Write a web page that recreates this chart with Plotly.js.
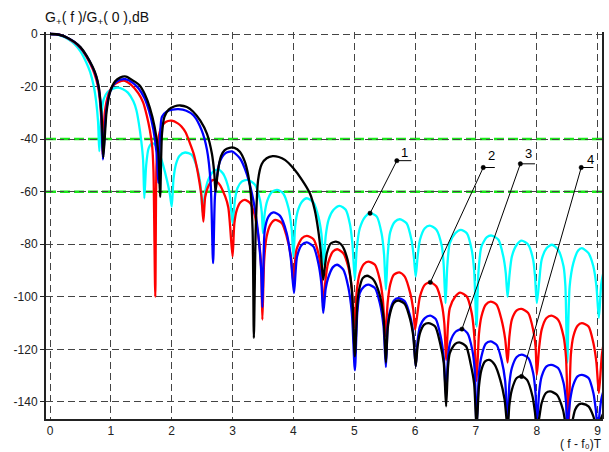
<!DOCTYPE html>
<html><head><meta charset="utf-8">
<script src="https://cdn.plot.ly/plotly-3.0.1.min.js"></script>
<style>html,body{margin:0;padding:0;background:#fff}#chart{width:609px;height:452px}</style>
</head><body><div id="chart"></div>
<script>
const xTickVals = [0,1,2,3,4,5,6,7,8,9];
const yTickVals = [0,-20,-40,-60,-80,-100,-120,-140];
const curveLabels = ['1','2','3','4'];
const refLevels = [-40,-60];

// curve 1 (cyan)
const x1 = [0,0.1,0.2,0.3,0.4,0.5,0.6,0.66,0.72,0.76,0.79,0.81,
 0.84,0.88,0.95,1.04,1.12,1.2,1.28,1.37,1.42,1.46,1.5,1.53,1.55,
 1.58,1.62,1.68,1.74,1.8,1.86,1.92,1.97,2.0,
 2.03,2.07,2.13,2.22,2.33,2.41,2.47,2.51,
 2.55,2.6,2.68,2.76,2.84,2.9,2.95,3.0,
 3.04,3.08,3.15,3.25,3.37,3.45,3.48,3.5,
 3.53,3.57,3.64,3.73,3.83,3.92,3.97,4.0,
 4.03,4.07,4.14,4.22,4.33,4.41,4.46,4.5,
 4.53,4.58,4.66,4.76,4.86,4.93,4.97,5.01,
 5.04,5.09,5.18,5.26,5.37,5.45,5.49,5.52,
 5.55,5.59,5.67,5.75,5.86,5.94,5.98,6.01,
 6.04,6.08,6.16,6.24,6.35,6.44,6.47,6.5,
 6.53,6.57,6.66,6.75,6.85,6.93,6.97,7.01,
 7.04,7.09,7.18,7.26,7.37,7.45,7.49,7.52,
 7.55,7.59,7.67,7.75,7.86,7.94,7.97,8.0,
 8.04,8.08,8.16,8.25,8.35,8.44,8.47,8.5,
 8.54,8.6,8.68,8.74,8.85,8.93,8.98,9.02,9.06,9.12];
const y1 = [0,-0.15,-0.8,-2.0,-3.8,-6.6,-11,-14.5,-20,-26,-33.5,-44.6,
 -32,-25,-22,-20.8,-20.4,-21,-22.3,-25.6,-29,-34,-40.8,-48,-62.5,
 -50,-43.5,-41.5,-42.5,-45.5,-50,-55.5,-61,-65.7,
 -55,-49.5,-46.3,-45.1,-46,-50.4,-56.8,-68.2,
 -60,-55.5,-52.4,-51.5,-53,-56,-60.6,-72,
 -63,-58.7,-56.2,-55.5,-57.4,-63.1,-68,-75.8,
 -68,-63.5,-60.3,-59.3,-60.6,-66.3,-74,-84.7,
 -73,-67.5,-63.8,-62.5,-64.1,-69.5,-76,-87.8,
 -77,-70.5,-66.9,-65.4,-66.9,-72.5,-80,-93.5,
 -82,-74,-69.5,-68.2,-69.5,-76,-84,-97.3,
 -84,-75.5,-71.4,-70.5,-72,-78.3,-85,-92.3,
 -85,-78.3,-73.9,-72.9,-74.5,-80.9,-88,-102.4,
 -88,-79.6,-75.8,-74.5,-75.8,-82.1,-90,-111.3,
 -91,-80.9,-77.3,-76.7,-78.3,-84.7,-91,-100,
 -92,-84.7,-80.2,-78.6,-80.2,-85.9,-92,-102.4,
 -94,-85.9,-81.5,-80.2,-82.1,-88.5,-96,-125,
 -96,-87.2,-82.4,-81.5,-83.4,-88.5,-96,-108,-95,-88];

// curve 2 (red)
const x2 = [0,0.1,0.2,0.3,0.4,0.5,0.6,0.7,0.76,0.8,0.83,0.85,0.865,
 0.9,0.96,1.04,1.13,1.23,1.34,1.45,1.53,1.59,1.64,1.68,1.70,1.73,
 1.75,1.78,1.83,1.9,2.0,2.1,2.16,2.23,2.3,2.36,2.41,2.46,2.49,2.52,
 2.55,2.6,2.68,2.77,2.88,2.93,2.96,3.0,
 3.03,3.07,3.13,3.2,3.29,3.36,3.4,3.44,3.47,3.49,
 3.52,3.56,3.62,3.7,3.81,3.89,3.96,4.0,
 4.05,4.14,4.22,4.33,4.41,4.46,4.49,
 4.53,4.57,4.65,4.72,4.82,4.9,4.96,5.0,
 5.04,5.09,5.16,5.23,5.34,5.42,5.47,5.51,
 5.55,5.59,5.65,5.74,5.83,5.92,5.97,6.0,
 6.04,6.08,6.16,6.25,6.35,6.44,6.48,6.51,
 6.54,6.57,6.66,6.74,6.85,6.93,6.97,7.01,
 7.05,7.09,7.16,7.24,7.34,7.42,7.48,7.52,
 7.55,7.59,7.67,7.75,7.86,7.94,7.98,8.0,
 8.04,8.08,8.16,8.24,8.35,8.44,8.48,8.52,
 8.56,8.6,8.67,8.74,8.85,8.93,8.98,9.02,9.07,9.12];
const y2 = [0,-0.1,-0.6,-1.7,-3.2,-5.3,-8.7,-13.2,-17.3,-21.5,-28,-36,-46,
 -30,-23,-19.5,-18.2,-17.8,-19.5,-22.5,-26,-31,-36.5,-43,-52,-100,
 -50,-40,-35.5,-33.5,-33,-34,-35.2,-37.5,-41.6,-45.5,-50.4,-57,-62,-71.4,
 -62,-58,-55.5,-56.8,-61.9,-66,-73.3,-84.7,
 -72,-66.9,-64,-63.1,-64.4,-68.5,-73.3,-80,-88.5,-108.7,
 -86,-77.1,-72.6,-70.7,-72,-77.1,-84.7,-94.8,
 -82.1,-77.7,-76.8,-78.1,-83.4,-91,-103.7,
 -93,-87.2,-82.8,-81.9,-83.4,-88.5,-97,-112,
 -98,-91,-87.5,-86.6,-87.8,-93.5,-101,-115,
 -102,-95.4,-91.6,-90.7,-92.3,-98.6,-105,-112.5,
 -106,-99.9,-95.4,-94.5,-96.1,-103,-110,-124,
 -111,-104.3,-99.9,-98.4,-99.9,-106.2,-114,-132,
 -114,-107.5,-103,-101.8,-103,-108.7,-116,-125,
 -115,-108.7,-105.2,-104.6,-106.2,-112.5,-119,-129.7,
 -119,-112.5,-108.1,-107.2,-108.7,-115.1,-123,-150,
 -122,-115.1,-111,-110,-111.3,-117.6,-125,-136.6,-122,-115];

// curve 3 (blue)
const x3 = [0,0.1,0.2,0.3,0.4,0.5,0.6,0.7,0.76,0.8,0.83,0.85,0.87,
 0.92,0.98,1.06,1.15,1.24,1.36,1.46,1.55,1.63,1.70,1.75,1.78,
 1.81,1.84,1.92,2.01,2.11,2.24,2.36,2.49,2.58,2.64,2.68,
 2.71,2.74,2.79,2.88,2.99,3.12,3.23,3.34,3.42,3.47,3.49,
 3.51,3.53,3.59,3.67,3.78,3.89,3.96,4.01,
 4.06,4.14,4.22,4.33,4.41,4.46,4.49,
 4.53,4.57,4.65,4.72,4.82,4.9,4.96,5.01,
 5.05,5.09,5.16,5.23,5.34,5.42,5.48,5.52,
 5.55,5.59,5.65,5.72,5.83,5.92,5.97,6.01,
 6.04,6.08,6.16,6.25,6.34,6.42,6.47,6.51,
 6.54,6.58,6.67,6.77,6.86,6.94,6.98,7.01,
 7.05,7.09,7.16,7.24,7.34,7.42,7.48,7.52,
 7.55,7.59,7.67,7.75,7.86,7.94,7.98,8.0,
 8.04,8.08,8.16,8.24,8.35,8.44,8.48,8.5,
 8.55,8.6,8.67,8.74,8.85,8.93,8.97,9.0,9.06,9.12];
const y3 = [0,-0.1,-0.6,-1.6,-3.0,-5.1,-8.3,-12.7,-16.3,-20.5,-26.5,-34,-47.8,
 -30,-22.5,-18.8,-17.4,-17.2,-18.6,-20.8,-24.3,-29.5,-36.5,-45,-56.7,
 -38,-31.5,-29.5,-28.8,-28.6,-29.2,-31,-36.5,-44.1,-56.8,-87.2,
 -62,-55,-48.6,-45.4,-44.7,-47.3,-53,-63.1,-75.8,-90,-104,
 -85,-74.5,-69.5,-67.9,-69.2,-75.8,-85.9,-98.6,
 -84.7,-80.2,-79.3,-80.9,-87.2,-95,-106.2,
 -97,-92.9,-88.7,-87.8,-89.7,-96.1,-106,-128,
 -106,-98.6,-96.1,-95.4,-96.7,-102.4,-111,-126.7,
 -111,-105.2,-101.5,-100.5,-101.7,-107.5,-114,-126.5,
 -117,-111.3,-108.1,-107.2,-108.5,-115.1,-123,-138,
 -123,-117,-113.2,-112.3,-113.8,-120.2,-128,-150,
 -129,-122.7,-117.9,-117,-118.3,-124,-132,-150,
 -133,-127.1,-122.9,-122,-123.3,-129,-137,-150,
 -136,-130.3,-126.5,-125.9,-127.1,-132.8,-140,-150,
 -139,-133.5,-130.3,-129.7,-130.9,-136.6,-143,-150,-139,-134];

// curve 4 (black)
const x4 = [0,0.1,0.2,0.3,0.4,0.5,0.6,0.7,0.76,0.8,0.83,0.855,0.876,
 0.93,0.99,1.07,1.15,1.25,1.37,1.47,1.56,1.64,1.72,1.78,1.81,
 1.84,1.88,1.95,2.05,2.14,2.25,2.35,2.47,2.58,2.66,2.70,2.72,
 2.76,2.81,2.87,2.95,3.03,3.12,3.2,3.26,3.3,3.33,3.35,
 3.38,3.42,3.48,3.56,3.66,3.76,3.86,4.0,4.14,4.27,4.35,4.41,4.45,4.49,
 4.52,4.55,4.61,4.7,4.79,4.89,4.96,5.01,
 5.05,5.08,5.14,5.21,5.31,5.41,5.48,5.52,
 5.55,5.59,5.65,5.72,5.83,5.92,5.97,6.01,
 6.04,6.08,6.15,6.22,6.33,6.41,6.47,6.51,
 6.54,6.57,6.66,6.74,6.84,6.91,6.97,7.01,
 7.05,7.09,7.15,7.22,7.31,7.4,7.47,7.52,
 7.55,7.59,7.67,7.75,7.84,7.93,7.97,8.0,
 8.04,8.08,8.15,8.22,8.33,8.43,8.47,8.5,
 8.56,8.63,8.69,8.75,8.85,8.93,8.97,9.0,9.06,9.12];
const y4 = [0,-0.1,-0.6,-1.6,-3.0,-5.0,-8.2,-12.5,-16,-20,-26,-34,-47,
 -29.4,-21.8,-18,-16.6,-16.2,-17.8,-19.5,-23,-28,-35.5,-45,-62,
 -38,-31.5,-28.8,-27.5,-27.2,-27.8,-29.5,-33,-38,-45.5,-53,-60,
 -52,-46.5,-44.2,-43.3,-43.3,-44.8,-48.5,-54,-61,-75,-115.7,
 -75,-55.5,-49.5,-47.3,-46.5,-46.8,-47.9,-51.1,-55.5,-60.6,-66.9,-75,-83,-93.5,
 -88,-83.4,-79.8,-79,-80.2,-85.9,-97.3,-122.7,
 -103,-97.3,-92.9,-92,-93.3,-98.6,-107.5,-125,
 -112,-106.2,-102.4,-101.4,-102.7,-108.7,-115,-126.5,
 -119,-113.8,-110.6,-110,-111.3,-117.6,-125,-141.7,
 -127,-121.4,-117.9,-117.4,-118.9,-125.2,-133,-150,
 -134,-127.8,-124.6,-124,-125.9,-131.6,-139,-150,
 -141,-135.4,-130.9,-130.3,-131.6,-137.9,-144,-150,
 -146,-140.4,-136.6,-136,-137.3,-143,-148,-150,
 -149,-143,-141,-140.7,-141.7,-145.5,-149,-150,-146,-143];

const curves = [
  {x:x1, y:y1, color:'#00ffff'},
  {x:x2, y:y2, color:'#ff0000'},
  {x:x3, y:y3, color:'#0000ff'},
  {x:x4, y:y4, color:'#000000'}
];

// leader label layout: point on curve (x), elbow end, label position
const leaderAtX = [5.26, 6.25, 6.77, 7.75];
const leaderTop = [[5.70,-48.2],[7.12,-50.8],[7.73,-49.4],[8.73,-50.8]];
const leaderRight = [5.94, 7.31, 7.97, 8.93];
const labelPos = [[5.83,-45.0],[7.25,-46.4],[7.87,-45.6],[8.89,-47.6]];

const FONT = 'Liberation Sans, Arial, Helvetica, sans-serif';

const traces = curves.map((c,i) => ({
  type:'scatter', mode:'lines', x:c.x, y:c.y, name:curveLabels[i],
  line:{color:c.color, width:2.3, shape:'spline', smoothing:0.7},
  hoverinfo:'skip', showlegend:false
}));

function valueAt(c, xv){
  let best=0, bd=1e9;
  for(let k=0;k<c.x.length;k++){const d=Math.abs(c.x[k]-xv); if(d<bd){bd=d;best=k;}}
  return [c.x[best], c.y[best]];
}

function dot(x,y){
  return {type:'circle', xref:'x', yref:'y', xsizemode:'pixel', ysizemode:'pixel',
    xanchor:x, yanchor:y, x0:-2.2, x1:2.2, y0:-2.2, y1:2.2,
    fillcolor:'#000', line:{color:'#000', width:0.5}, layer:'above'};
}

const annotations = [];
const shapes = [];
refLevels.forEach(v=>{
  shapes.push({type:'line', xref:'paper', yref:'y', x0:0, x1:1, y0:v, y1:v,
    line:{color:'#19e619', width:2.5, dash:'10px,4px'}, layer:'between'});
});
curves.forEach((c,i)=>{
  const p = valueAt(c, leaderAtX[i]);
  const t = leaderTop[i];
  shapes.push({type:'line', xref:'x', yref:'y', x0:p[0], y0:p[1], x1:t[0], y1:t[1],
    line:{color:'#000', width:1}, layer:'above'});
  shapes.push({type:'line', xref:'x', yref:'y', x0:t[0], x1:leaderRight[i],
    y0:t[1], y1:t[1], line:{color:'#000', width:1}, layer:'above'});
  shapes.push(dot(p[0], p[1]));
  shapes.push(dot(t[0], t[1]));
  annotations.push({x:labelPos[i][0], y:labelPos[i][1], xref:'x', yref:'y', text:curveLabels[i],
    showarrow:false, font:{family:FONT, size:13, color:'#000'}});
});
shapes.push({type:'line', xref:'paper', yref:'paper', x0:1, x1:1, y0:0, y1:1,
  line:{color:'#222', width:2}, layer:'above'});

annotations.push({xref:'paper', yref:'paper', x:1, y:-32.5/387, xanchor:'right', yanchor:'bottom',
  borderpad:0, text:'( f - f\u2080)T', showarrow:false,
  font:{family:FONT, size:12, color:'#111'}});

const layout = {
  width:609, height:452,
  margin:{l:46, r:6, t:32, b:33},
  paper_bgcolor:'#fff', plot_bgcolor:'#fff',
  title:{text:'G<sub>+</sub>( f )/G<sub>+</sub>( 0 ),dB', xref:'container', yref:'container',
    x:45/609, xanchor:'left', y:1-17/452, yanchor:'middle',
    font:{family:FONT, size:14, color:'#111'}},
  xaxis:{range:[-0.066, 9.088], tickvals:xTickVals, ticktext:xTickVals.map(String),
    showgrid:true, gridcolor:'#444', gridwidth:1, griddash:'7px,4px', zeroline:false,
    showline:true, linecolor:'#222', linewidth:2, ticks:'',
    tickfont:{family:FONT, size:12, color:'#222'}, fixedrange:true},
  yaxis:{range:[-146.5, 0.76], tickvals:yTickVals, ticktext:yTickVals.map(String),
    showgrid:true, gridcolor:'#444', gridwidth:1, griddash:'7px,4px', zeroline:false,
    showline:true, linecolor:'#222', linewidth:2, ticks:'outside', ticklen:4, tickcolor:'#222',
    tickfont:{family:FONT, size:12, color:'#222'}, fixedrange:true},
  showlegend:false,
  shapes:shapes,
  annotations:annotations
};

Plotly.newPlot('chart', traces, layout, {displayModeBar:false, staticPlot:true});
</script>
</body></html>
